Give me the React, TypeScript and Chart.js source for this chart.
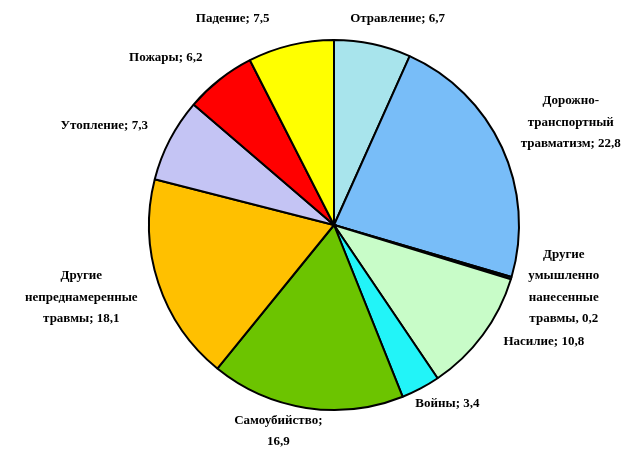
import React, { useEffect, useRef } from "react";
import { Chart, registerables } from "chart.js";

Chart.register(...registerables);

const categories: string[][] = [
  ["Отравление; 6,7"],
  ["Дорожно-", "транспортный", "травматизм; 22,8"],
  ["Другие", "умышленно", "нанесенные", "травмы, 0,2"],
  ["Насилие; 10,8"],
  ["Войны; 3,4"],
  ["Самоубийство;", "16,9"],
  ["Другие", "непреднамеренные", "травмы; 18,1"],
  ["Утопление; 7,3"],
  ["Пожары; 6,2"],
  ["Падение; 7,5"],
];

const values: number[] = [6.7, 22.8, 0.2, 10.8, 3.4, 16.9, 18.1, 7.3, 6.2, 7.5];

const colors: string[] = [
  "#a8e4ec",
  "#78bdf8",
  "#0f6a6a",
  "#c8fcc8",
  "#22f4f8",
  "#6cc400",
  "#ffc000",
  "#c4c4f4",
  "#ff0000",
  "#ffff00",
];

// label block centre offsets, in units of the pie radius, relative to the pie centre
const labelOffsets: [number, number][] = [
  [0.344, -1.118],
  [1.28, -0.554],
  [1.242, 0.333],
  [1.134, 0.629],
  [0.613, 0.968],
  [-0.301, 1.113],
  [-1.366, 0.392],
  [-1.242, -0.538],
  [-0.909, -0.903],
  [-0.548, -1.118],
];

const labelPlugin = {
  id: "outerLabels",
  afterDraw(chart: any) {
    const ctx = chart.ctx;
    const meta = chart.getDatasetMeta(0);
    ctx.save();
    ctx.font = "bold 13px 'Liberation Serif', serif";
    ctx.fillStyle = "#000";
    ctx.textAlign = "center";
    ctx.textBaseline = "middle";
    const lh = 21.5;
    meta.data.forEach((arc: any, i: number) => {
      const r = arc.outerRadius;
      const cx = arc.x + labelOffsets[i][0] * r;
      const cy = arc.y + labelOffsets[i][1] * r;
      const lines = categories[i];
      const y0 = cy - ((lines.length - 1) * lh) / 2;
      lines.forEach((ln, j) => ctx.fillText(ln, cx, y0 + j * lh));
    });
    ctx.restore();
  },
};

export default function App() {
  const ref = useRef<HTMLCanvasElement>(null);
  useEffect(() => {
    if (!ref.current) return;
    const chart = new Chart(ref.current, {
      type: "pie",
      data: {
        labels: categories.map((c) => c.join(" ")),
        datasets: [
          {
            data: values,
            backgroundColor: colors,
            borderColor: "#000",
            borderWidth: 2,
          },
        ],
      },
      options: {
        animation: false,
        responsive: false,
        layout: { padding: { top: 39, bottom: 46, left: 148, right: 113 } },
        plugins: {
          legend: { display: false },
          tooltip: { enabled: false },
        },
      },
      plugins: [labelPlugin],
    });
    return () => chart.destroy();
  }, []);
  return (
    <div style={{ position: "absolute", left: 0, top: 0, width: 633, height: 457, background: "#fff" }}>
      <canvas ref={ref} width={633} height={457} style={{ width: 633, height: 457 }} />
    </div>
  );
}
